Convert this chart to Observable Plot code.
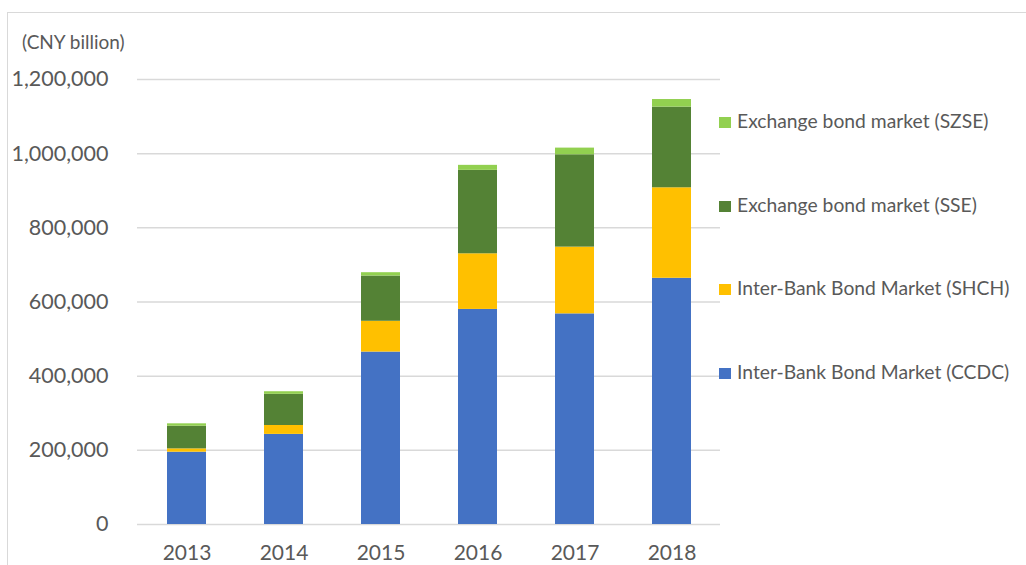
<!DOCTYPE html>
<html>
<head>
<meta charset="utf-8">
<script src="https://cdn.jsdelivr.net/npm/d3@7"></script>
<script src="https://cdn.jsdelivr.net/npm/@observablehq/plot@0.6"></script>
<style>
  html, body { margin: 0; padding: 0; background: #fff; overflow: hidden; }
  #wrap { position: relative; width: 1026px; height: 565px; font-family: Lato, sans-serif; color: #595959; }
  #frame { position: absolute; left: 7px; top: 12px; width: 1100px; height: 700px; border: 1.5px solid #d9d9d9; pointer-events: none; }
  #unit { position: absolute; left: 22px; top: 30px; font-size: 19px; line-height: 24px; }
  .leg { position: absolute; left: 719px; font-size: 19.3px; line-height: 24px; white-space: nowrap; }
  .sw { display: inline-block; width: 12px; height: 11px; margin-right: 6px; vertical-align: 0px; }
  #chart { position: absolute; left: 0; top: 0; }
</style>
</head>
<body>
<div id="wrap">
  <div id="chart"></div>
  <div id="frame"></div>
  <div id="unit">(CNY billion)</div>
  <div id="legend"></div>
</div>
<script>
const years = ["2013", "2014", "2015", "2016", "2017", "2018"];
const seriesNames = [
  "Inter-Bank Bond Market (CCDC)",
  "Inter-Bank Bond Market (SHCH)",
  "Exchange bond market (SSE)",
  "Exchange bond market (SZSE)"
];
const ccdc = [195000, 243000, 465000, 580000, 568000, 664000];
const shch = [9000, 24000, 83000, 150000, 180000, 244000];
const sse  = [61000, 84000, 122000, 225000, 249000, 217500];
const szse = [6500, 7000, 9000, 13500, 18000, 20500];
const yTicks = [0, 200000, 400000, 600000, 800000, 1000000, 1200000];
const colors = ["#4472C4", "#FFC000", "#548235", "#92D050"];

const seriesValues = [ccdc, shch, sse, szse];
const table = [];
years.forEach((y, i) => {
  seriesValues.forEach((vals, s) => {
    table.push({year: y, series: seriesNames[s], value: vals[i]});
  });
});

const chart = Plot.plot({
  width: 1026,
  height: 565,
  marginLeft: 137,
  marginRight: 306,
  marginTop: 79,
  marginBottom: 41,
  style: {fontFamily: "Lato, sans-serif", fontSize: "21px", color: "#595959", background: "transparent"},
  x: {domain: years, paddingInner: 0.6, paddingOuter: 0.3, label: null},
  y: {domain: [0, 1200000], label: null},
  color: {domain: seriesNames, range: colors},
  marks: [
    Plot.gridY(yTicks, {stroke: "#d9d9d9", strokeOpacity: 1, strokeWidth: 1.5}),
    Plot.barY(table, {x: "year", y: "value", fill: "series", order: seriesNames}),
    Plot.axisY(yTicks, {tickSize: 0, tickPadding: 29, tickFormat: d3.format(","), fontSize: 21.5, fill: "#595959", label: null}),
    Plot.axisX({tickSize: 0, tickPadding: 21, fontSize: 21, fill: "#595959", label: null})
  ]
});
document.getElementById("chart").appendChild(chart);

const legendRows = [
  {name: seriesNames[3], color: colors[3], y: 121},
  {name: seriesNames[2], color: colors[2], y: 205},
  {name: seriesNames[1], color: colors[1], y: 288},
  {name: seriesNames[0], color: colors[0], y: 372}
];
const leg = document.getElementById("legend");
legendRows.forEach(r => {
  const d = document.createElement("div");
  d.className = "leg";
  d.style.top = (r.y - 12) + "px";
  d.innerHTML = `<span class="sw" style="background:${r.color}"></span>${r.name}`;
  leg.appendChild(d);
});
</script>
</body>
</html>
